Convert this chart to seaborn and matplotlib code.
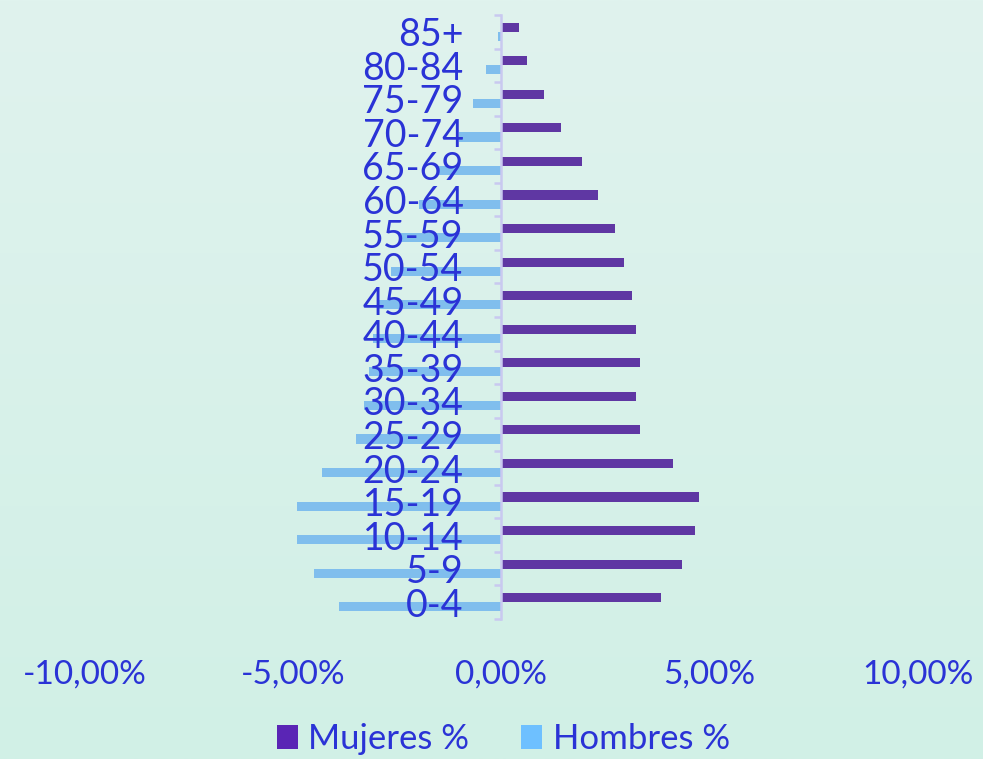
import seaborn as sns
import matplotlib.pyplot as plt
import numpy as np
import pandas as pd
from matplotlib.patches import Patch

# age groups, top to bottom
edades = ['85+', '80-84', '75-79', '70-74', '65-69', '60-64', '55-59', '50-54', '45-49',
          '40-44', '35-39', '30-34', '25-29', '20-24', '15-19', '10-14', '5-9', '0-4']
mujeres = [0.43, 0.62, 1.03, 1.44, 1.94, 2.33, 2.73, 2.95, 3.14,
           3.24, 3.33, 3.24, 3.33, 4.12, 4.75, 4.65, 4.34, 3.84]
hombres = [0.08, 0.36, 0.67, 1.00, 1.52, 1.97, 2.40, 2.64, 2.95,
           3.07, 3.17, 3.29, 3.48, 4.29, 4.89, 4.89, 4.48, 3.88]
series = ['Mujeres %', 'Hombres %']
ticks_x = [-10, -5, 0, 5, 10]

col_muj = '#5a25b5'
col_hom = '#6ec0ff'
col_txt = '#2a33d6'
col_axis = '#c9c9f0'

df = pd.concat([
    pd.DataFrame({'edad': edades, 'valor': mujeres, 'sexo': series[0]}),
    pd.DataFrame({'edad': edades, 'valor': [-v for v in hombres], 'sexo': series[1]}),
])

plt.rcParams['font.family'] = ['Lato', 'DejaVu Sans']

fig = plt.figure(figsize=(9.83, 7.59), dpi=100)

# background gradient
bg = fig.add_axes([0, 0, 1, 1], zorder=-10)
top = np.array([224, 243, 238]) / 255
bot = np.array([209, 240, 230]) / 255
t = np.linspace(0, 1, 256)[:, None]
grad = (top[None, :] * (1 - t) + bot[None, :] * t)[:, None, :]
bg.imshow(grad, aspect='auto', extent=[0, 1, 0, 1])
bg.axis('off')

ax = fig.add_axes([84.5 / 983, 1 - 619 / 759, 833 / 983, 604 / 759])
sns.barplot(data=df, x='valor', y='edad', hue='sexo', order=edades, hue_order=series,
            palette=[col_muj, col_hom], orient='h', width=0.54, gap=0, dodge=True,
            linewidth=0, legend=False, ax=ax)
ax.set_facecolor('none')

ax.set_xlim(-10, 10)
ax.set_ylim(len(edades) - 0.5, -0.5)
ax.set_xticks(ticks_x)
ax.set_xticklabels([('%.2f%%' % v).replace('.', ',') for v in ticks_x],
                   fontsize=24, color=col_txt)
ax.tick_params(axis='x', length=0, pad=29)

for s in ['top', 'right', 'bottom']:
    ax.spines[s].set_visible(False)
ax.spines['left'].set_position(('data', 0))
ax.spines['left'].set_color(col_axis)
ax.spines['left'].set_linewidth(1.8)

ax.set_yticks(np.arange(len(edades)))
ax.set_yticklabels(edades, fontsize=27, color=col_txt)
ax.set_yticks(np.arange(len(edades) + 1) - 0.5, minor=True)
ax.tick_params(axis='y', which='major', length=0, pad=27)
ax.tick_params(axis='y', which='minor', length=5, width=1.8, color=col_axis)
ax.set_xlabel('')
ax.set_ylabel('')
for lab in ax.get_yticklabels():
    lab.set_zorder(5)

handles = [Patch(facecolor=col_muj), Patch(facecolor=col_hom)]
fig.legend(handles, series, loc='center', bbox_to_anchor=(0.512, 0.026),
           ncol=2, frameon=False, fontsize=25, labelcolor=col_txt,
           handlelength=0.6, handleheight=0.7, handletextpad=0.3, columnspacing=1.5,
           borderpad=0.1)

fig.savefig('out.png', dpi=100)
